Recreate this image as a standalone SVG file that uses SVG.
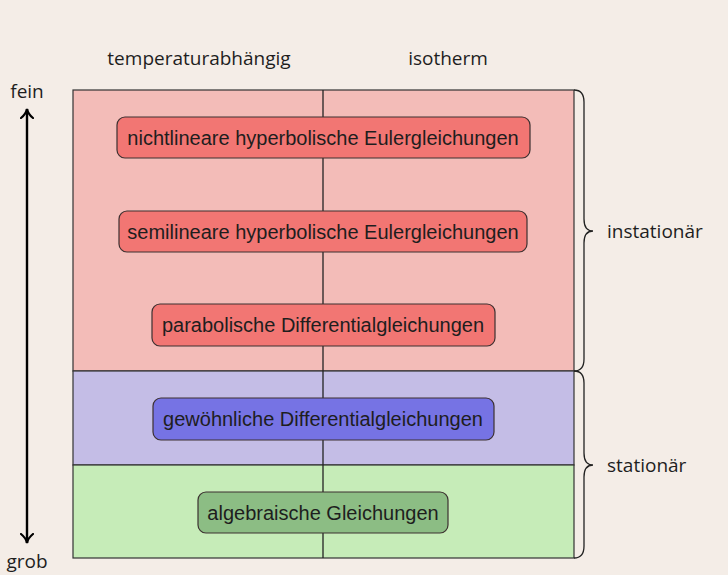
<svg xmlns="http://www.w3.org/2000/svg" width="728" height="575" viewBox="0 0 728 575">
<defs>
<style>
.t{font-family:"Liberation Sans",Arial,sans-serif;font-size:20px;fill:#1e1e1e;text-anchor:middle;dominant-baseline:central}
.h{font-family:"Open Sans","DejaVu Sans",sans-serif;font-size:19px;fill:#1e1e1e}
.box{stroke:#3c3030;stroke-width:1.2}
.reg{stroke:#333;stroke-width:1.2}
.ln{stroke:#222;stroke-width:1.3;fill:none}
</style>
<marker id="ah" viewBox="0 0 12 14" refX="10" refY="7" markerWidth="12" markerHeight="14" orient="auto-start-reverse" markerUnits="userSpaceOnUse">
<path d="M1,1 Q5,6 10,7 Q5,8 1,13" fill="none" stroke="#000" stroke-width="2.2" stroke-linecap="round"/>
</marker>
</defs>
<rect width="728" height="575" fill="#f4ede7"/>
<g id="regions">
<rect x="73" y="90" width="501" height="281" fill="#f3bcb8" class="reg"/>
<rect x="73" y="371" width="501" height="94" fill="#c4bde6" class="reg"/>
<rect x="73" y="465" width="501" height="93" fill="#c6ecb8" class="reg"/>
</g>
<g id="connectors">
<line x1="323" y1="90" x2="323" y2="558" class="ln"/>
<line x1="27" y1="543" x2="27" y2="109" stroke="#000" stroke-width="2.4" marker-start="url(#ah)" marker-end="url(#ah)"/>
<path class="ln" d="M574,90 Q584,90 584,102 L584,219 Q584,231 593,231 Q584,231 584,243 L584,359 Q584,371 574,371"/>
<path class="ln" d="M574,371 Q584,371 584,383 L584,453 Q584,465 593,465 Q584,465 584,477 L584,546 Q584,558 574,558"/>
</g>
<g id="n1"><rect x="117" y="117" width="413" height="41" rx="8" fill="#f27673" class="box"/><text x="323" y="138" class="t">nichtlineare hyperbolische Eulergleichungen</text></g>
<g id="n2"><rect x="119" y="211" width="408" height="41" rx="8" fill="#f27673" class="box"/><text x="323" y="232" class="t">semilineare hyperbolische Eulergleichungen</text></g>
<g id="n3"><rect x="152" y="304" width="343" height="42" rx="8" fill="#f27673" class="box"/><text x="323" y="325" class="t">parabolische Differentialgleichungen</text></g>
<g id="n4"><rect x="153" y="398" width="341" height="42" rx="8" fill="#7673e4" class="box"/><text x="323" y="419" class="t">gewöhnliche Differentialgleichungen</text></g>
<g id="n5"><rect x="198" y="492" width="250" height="41" rx="8" fill="#8cbd84" class="box"/><text x="323" y="513" class="t">algebraische Gleichungen</text></g>
<g id="labels">
<text x="199" y="65" class="h" text-anchor="middle">temperaturabhängig</text>
<text x="448" y="65" class="h" text-anchor="middle">isotherm</text>
<text x="27" y="98" class="h" text-anchor="middle">fein</text>
<text x="27" y="568" class="h" text-anchor="middle">grob</text>
<text x="607" y="238" class="h">instationär</text>
<text x="607" y="472" class="h">stationär</text>
</g>
</svg>
